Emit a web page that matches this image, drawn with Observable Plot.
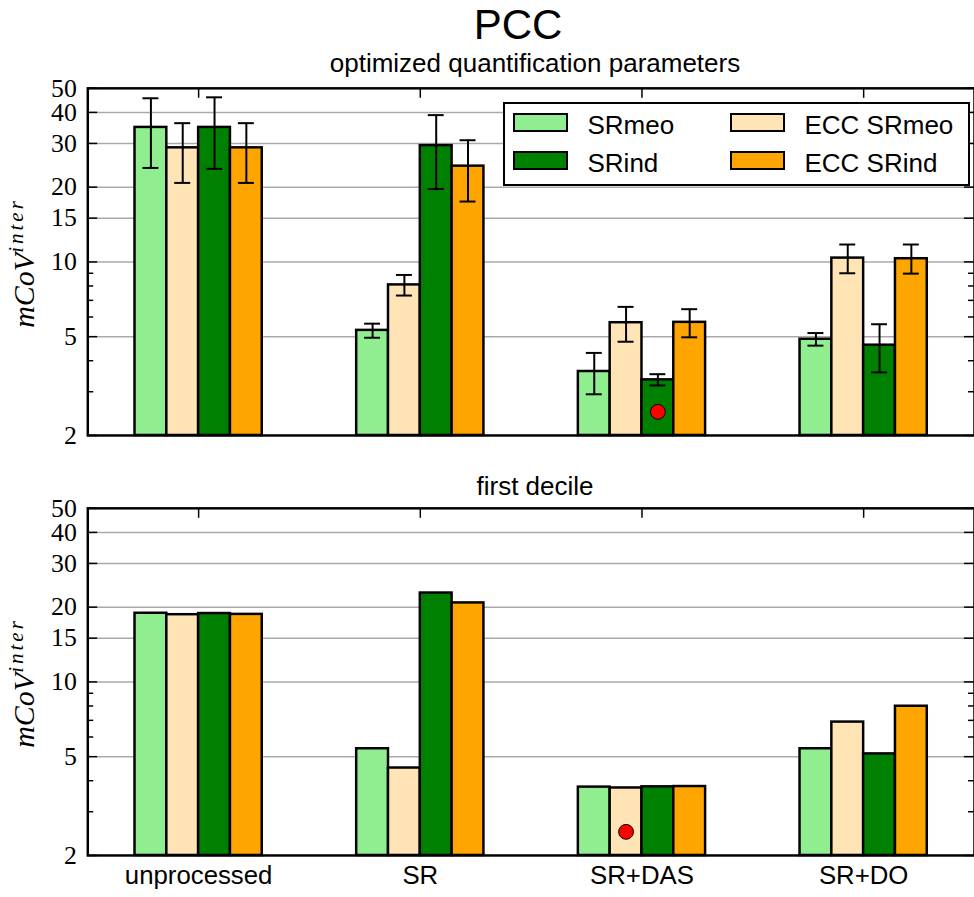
<!DOCTYPE html>
<html>
<head>
<meta charset="utf-8">
<script src="https://cdn.jsdelivr.net/npm/d3@7"></script>
<script src="https://cdn.jsdelivr.net/npm/@observablehq/plot@0.6"></script>
<style>
  html, body { margin: 0; padding: 0; background: white; }
  #fig { position: relative; width: 974px; height: 897px; overflow: hidden; background: white; font-family: "Liberation Sans", Arial, sans-serif; color: black; }
  .abs { position: absolute; white-space: nowrap; line-height: 1; }
  .panel { position: absolute; left: 0; }
  .legend { position: absolute; left: 503px; top: 102px; width: 467px; height: 84px; border: 2.5px solid black; background: white; box-sizing: border-box; }
  .sw { position: absolute; width: 55px; height: 19px; border: 2.5px solid black; box-sizing: border-box; }
  .lt { position: absolute; font-size: 26px; line-height: 1; white-space: nowrap; }
  .ylab { position: absolute; font-family: "Liberation Serif", serif; font-style: italic; font-size: 30px; line-height: 1; white-space: nowrap; transform: translate(-50%, -50%) rotate(-90deg); }
  .ylab sup { font-size: 21px; letter-spacing: 3px; vertical-align: 11px; line-height: 0; }
</style>
</head>
<body>
<div id="fig">
  <div class="abs" style="left:318px;width:400px;text-align:center;top:4px;font-size:42px;">PCC</div>
  <div class="abs" style="left:235px;width:600px;text-align:center;top:50px;font-size:26px;">optimized quantification parameters</div>
  <div class="abs" style="left:235px;width:600px;text-align:center;top:473px;font-size:26px;">first decile</div>
  <div id="top" class="panel" style="top:68px;"></div>
  <div id="bottom" class="panel" style="top:488px;"></div>
  <div class="ylab" style="left:24px;top:263px;">mCoV<sup>inter</sup></div>
  <div class="ylab" style="left:24px;top:683px;">mCoV<sup>inter</sup></div>
  <div class="legend" id="legend"></div>
</div>
<script>
// ---- data ----
const categories = ["unprocessed", "SR", "SR+DAS", "SR+DO"];
const series = ["SRmeo", "ECC SRmeo", "SRind", "ECC SRind"];
const colors = ["#90ee90", "#ffe4b5", "#008000", "#ffa500"];
const yTicks = [2, 5, 10, 15, 20, 30, 40, 50];
const yMinorTicks = [3, 4, 6, 7, 8, 9];
const gridTicks = [5, 10, 15, 20, 30, 40];

// optimized quantification parameters (mean, lower, upper)
const optSRmeo      = [34.8, 5.30, 3.62, 4.88];
const optSRmeoLo    = [23.9, 4.95, 2.93, 4.60];
const optSRmeoHi    = [45.6, 5.64, 4.30, 5.17];
const optECCSRmeo   = [28.8, 8.08, 5.69, 10.36];
const optECCSRmeoLo = [20.8, 7.32, 4.77, 9.00];
const optECCSRmeoHi = [36.2, 8.86, 6.59, 11.75];
const optSRind      = [34.8, 29.4, 3.35, 4.62];
const optSRindLo    = [23.7, 19.65, 3.18, 3.59];
const optSRindHi    = [46.0, 39.0, 3.53, 5.61];
const optECCSRind   = [28.8, 24.3, 5.71, 10.3];
const optECCSRindLo = [20.8, 17.5, 4.97, 8.97];
const optECCSRindHi = [36.2, 30.9, 6.45, 11.75];

// first decile
const decSRmeo    = [18.9, 5.38, 3.77, 5.38];
const decECCSRmeo = [18.65, 4.50, 3.74, 6.89];
const decSRind    = [18.85, 22.8, 3.78, 5.13];
const decECCSRind = [18.7, 20.8, 3.79, 7.98];

// red markers
const markerTop = [{category: "SR+DAS", series: "SRind", value: 2.49}];
const markerBottom = [{category: "SR+DAS", series: "ECC SRmeo", value: 2.49}];

// ---- tables ----
function buildRows(vals, los, his) {
  const rows = [];
  series.forEach((s, si) => {
    categories.forEach((c, ci) => {
      rows.push({cat: c, ci, ser: s, si, value: vals[si][ci],
        lo: los ? los[si][ci] : null, hi: his ? his[si][ci] : null});
    });
  });
  return rows;
}
const topRows = buildRows(
  [optSRmeo, optECCSRmeo, optSRind, optECCSRind],
  [optSRmeoLo, optECCSRmeoLo, optSRindLo, optECCSRindLo],
  [optSRmeoHi, optECCSRmeoHi, optSRindHi, optECCSRindHi]);
const bottomRows = buildRows([decSRmeo, decECCSRmeo, decSRind, decECCSRind]);

const W = 982, ML = 88, FW = W - ML, FH = 350, MT = 20;
const bw = 0.1435, cap = 0.036;
const xc = d => d.ci + (d.si - 1.5) * bw;
const mk = m => ({ci: categories.indexOf(m.category), si: series.indexOf(m.series), value: m.value});

function panel(rows, markers, showX, errors) {
  const mrows = markers.map(mk);
  const marks = [
    Plot.ruleY(gridTicks, {y: d => d, stroke: "#aaaaaa", strokeWidth: 1.5}),
    Plot.rect(rows, {x1: d => xc(d) - bw / 2, x2: d => xc(d) + bw / 2, y1: 2, y2: "value",
      fill: "ser", stroke: "black", strokeWidth: 2.5}),
  ];
  if (errors) {
    marks.push(
      Plot.ruleX(rows, {x: xc, y1: "lo", y2: "hi", stroke: "black", strokeWidth: 2}),
      Plot.ruleY(rows, {x1: d => xc(d) - cap, x2: d => xc(d) + cap, y: "lo", stroke: "black", strokeWidth: 2}),
      Plot.ruleY(rows, {x1: d => xc(d) - cap, x2: d => xc(d) + cap, y: "hi", stroke: "black", strokeWidth: 2})
    );
  }
  marks.push(
    Plot.dot(mrows, {x: xc, y: "value", r: 7.5, fill: "red", stroke: "black", strokeWidth: 1}),
    Plot.tickY(yTicks, {y: d => d, insetRight: FW - 10, stroke: "black", strokeWidth: 1.5}),
    Plot.tickY(yMinorTicks, {y: d => d, insetRight: FW - 6, stroke: "black", strokeWidth: 1.5}),
    Plot.tickY(yTicks, {y: d => d, insetLeft: FW - 10, stroke: "black", strokeWidth: 1.5}),
    Plot.tickY(yMinorTicks, {y: d => d, insetLeft: FW - 6, stroke: "black", strokeWidth: 1.5}),
    Plot.tickX(categories.map((c, i) => i), {x: d => d, insetBottom: FH - 10, stroke: "black", strokeWidth: 1.5}),
    Plot.axisY({ticks: yTicks, tickSize: 0, tickPadding: 11, tickFormat: d => String(d),
      fontFamily: "Liberation Serif", fontSize: 26, label: null}),
    Plot.frame({stroke: "black", strokeWidth: 2.5})
  );
  if (showX) {
    marks.push(Plot.axisX({ticks: categories.map((c, i) => i), tickFormat: i => categories[i],
      tickSize: 0, tickPadding: 10, fontSize: 26, label: null}));
  }
  const MB = showX ? 39 : 16;
  return Plot.plot({
    width: W, height: MT + FH + MB,
    marginLeft: ML, marginRight: 0, marginTop: MT, marginBottom: MB,
    style: {fontFamily: "Liberation Sans, Arial, sans-serif", fontSize: "26px", background: "transparent", color: "black"},
    x: showX ? {domain: [-0.5, 3.5]} : {domain: [-0.5, 3.5], axis: null},
    y: {type: "log", domain: [2, 50]},
    color: {domain: series, range: colors},
    marks
  });
}

document.getElementById("top").appendChild(panel(topRows, markerTop, false, true));
document.getElementById("bottom").appendChild(panel(bottomRows, markerBottom, true, false));

// legend (two columns: SRmeo/SRind, ECC SRmeo/ECC SRind)
const legend = document.getElementById("legend");
const legendOrder = [[0, 0, 0], [2, 0, 1], [1, 1, 0], [3, 1, 1]];
legendOrder.forEach(([si, col, row]) => {
  const sw = document.createElement("div");
  sw.className = "sw";
  sw.style.left = (col ? 224.5 : 7.5) + "px";
  sw.style.top = (row ? 46.5 : 8.5) + "px";
  sw.style.background = colors[si];
  legend.appendChild(sw);
  const t = document.createElement("div");
  t.className = "lt";
  t.textContent = series[si];
  t.style.left = (col ? 299.5 : 82.5) + "px";
  t.style.top = (row ? 45.5 : 7.5) + "px";
  legend.appendChild(t);
});
</script>
</body>
</html>
